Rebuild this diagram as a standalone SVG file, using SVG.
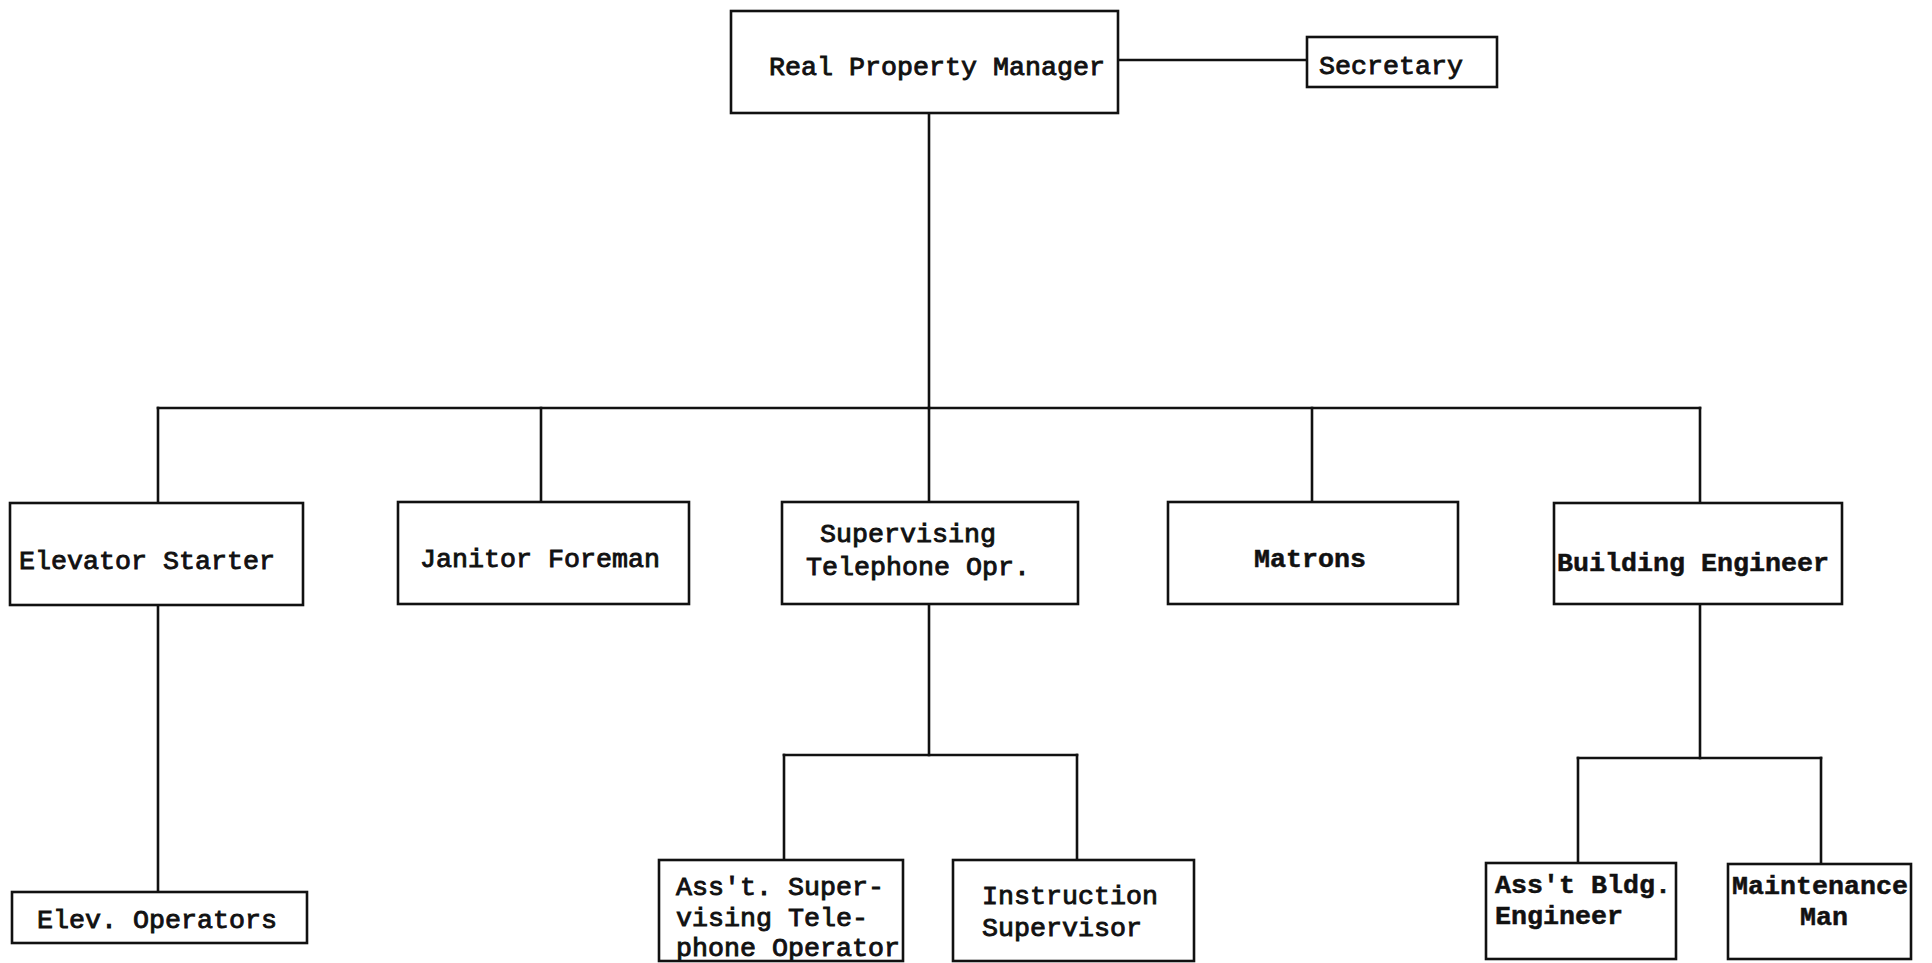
<svg xmlns="http://www.w3.org/2000/svg" width="1932" height="963" viewBox="0 0 1932 963">
  <style>
    .box { fill: #ffffff; stroke: #111111; stroke-width: 2.6; }
    .wire { fill: none; stroke: #111111; stroke-width: 2.6; stroke-linecap: square; }
    .t { font-family: "Liberation Mono", "Courier New", monospace; font-size: 26px; fill: #111111; stroke: #111111; stroke-width: 0.9; }
    .b { font-weight: bold; stroke-width: 0.5; }
  </style>
  <rect width="1932" height="963" fill="#ffffff"/>

  <!-- reporting lines -->
  <g id="connectors">
    <line class="wire" x1="1118" y1="60" x2="1307" y2="60"/>
    <line class="wire" x1="929" y1="113" x2="929" y2="408"/>
    <line class="wire" x1="158" y1="408" x2="1700" y2="408"/>
    <line class="wire" x1="158" y1="408" x2="158" y2="503"/>
    <line class="wire" x1="541" y1="408" x2="541" y2="502"/>
    <line class="wire" x1="929" y1="408" x2="929" y2="502"/>
    <line class="wire" x1="1312" y1="408" x2="1312" y2="502"/>
    <line class="wire" x1="1700" y1="408" x2="1700" y2="503"/>
    <line class="wire" x1="158" y1="605" x2="158" y2="892"/>
    <line class="wire" x1="929" y1="604" x2="929" y2="755"/>
    <line class="wire" x1="784" y1="755" x2="1077" y2="755"/>
    <line class="wire" x1="784" y1="755" x2="784" y2="860"/>
    <line class="wire" x1="1077" y1="755" x2="1077" y2="860"/>
    <line class="wire" x1="1700" y1="605" x2="1700" y2="758"/>
    <line class="wire" x1="1578" y1="758" x2="1578" y2="863"/>
    <line class="wire" x1="1578" y1="758" x2="1821" y2="758"/>
    <line class="wire" x1="1821" y1="758" x2="1821" y2="864"/>
  </g>

  <g id="real-property-manager">
    <rect class="box" x="731" y="11" width="387" height="102"/>
    <text class="t" x="769" y="75" textLength="336" lengthAdjust="spacingAndGlyphs">Real Property Manager</text>
  </g>

  <g id="secretary">
    <rect class="box" x="1307" y="37" width="190" height="50"/>
    <text class="t" x="1319" y="74" textLength="144" lengthAdjust="spacingAndGlyphs">Secretary</text>
  </g>

  <g id="elevator-starter">
    <rect class="box" x="10" y="503" width="293" height="102"/>
    <text class="t" x="19" y="569" textLength="256" lengthAdjust="spacingAndGlyphs">Elevator Starter</text>
  </g>

  <g id="janitor-foreman">
    <rect class="box" x="398" y="502" width="291" height="102"/>
    <text class="t" x="420" y="567" textLength="240" lengthAdjust="spacingAndGlyphs">Janitor Foreman</text>
  </g>

  <g id="supervising-telephone-opr">
    <rect class="box" x="782" y="502" width="296" height="102"/>
    <text class="t" x="820" y="542" textLength="176" lengthAdjust="spacingAndGlyphs">Supervising</text>
    <text class="t" x="806" y="575" textLength="224" lengthAdjust="spacingAndGlyphs">Telephone Opr.</text>
  </g>

  <g id="matrons">
    <rect class="box" x="1168" y="502" width="290" height="102"/>
    <text class="t b" x="1254" y="567" textLength="112" lengthAdjust="spacingAndGlyphs">Matrons</text>
  </g>

  <g id="building-engineer">
    <rect class="box" x="1554" y="503" width="288" height="101"/>
    <text class="t b" x="1557" y="571" textLength="272" lengthAdjust="spacingAndGlyphs">Building Engineer</text>
  </g>

  <g id="elev-operators">
    <rect class="box" x="12" y="892" width="295" height="51"/>
    <text class="t" x="37" y="928" textLength="240" lengthAdjust="spacingAndGlyphs">Elev. Operators</text>
  </g>

  <g id="asst-supervising-telephone-operator">
    <rect class="box" x="659" y="860" width="244" height="101"/>
    <text class="t" x="676" y="895" textLength="208" lengthAdjust="spacingAndGlyphs">Ass't. Super-</text>
    <text class="t" x="676" y="926" textLength="192" lengthAdjust="spacingAndGlyphs">vising Tele-</text>
    <text class="t" x="676" y="956" textLength="224" lengthAdjust="spacingAndGlyphs">phone Operator</text>
  </g>

  <g id="instruction-supervisor">
    <rect class="box" x="953" y="860" width="241" height="101"/>
    <text class="t" x="982" y="904" textLength="176" lengthAdjust="spacingAndGlyphs">Instruction</text>
    <text class="t" x="982" y="936" textLength="160" lengthAdjust="spacingAndGlyphs">Supervisor</text>
  </g>

  <g id="asst-bldg-engineer">
    <rect class="box" x="1486" y="863" width="190" height="96"/>
    <text class="t b" x="1495" y="893" textLength="176" lengthAdjust="spacingAndGlyphs">Ass't Bldg.</text>
    <text class="t b" x="1495" y="924" textLength="128" lengthAdjust="spacingAndGlyphs">Engineer</text>
  </g>

  <g id="maintenance-man">
    <rect class="box" x="1728" y="864" width="183" height="95"/>
    <text class="t b" x="1732" y="894" textLength="176" lengthAdjust="spacingAndGlyphs">Maintenance</text>
    <text class="t b" x="1800" y="925" textLength="48" lengthAdjust="spacingAndGlyphs">Man</text>
  </g>
</svg>
